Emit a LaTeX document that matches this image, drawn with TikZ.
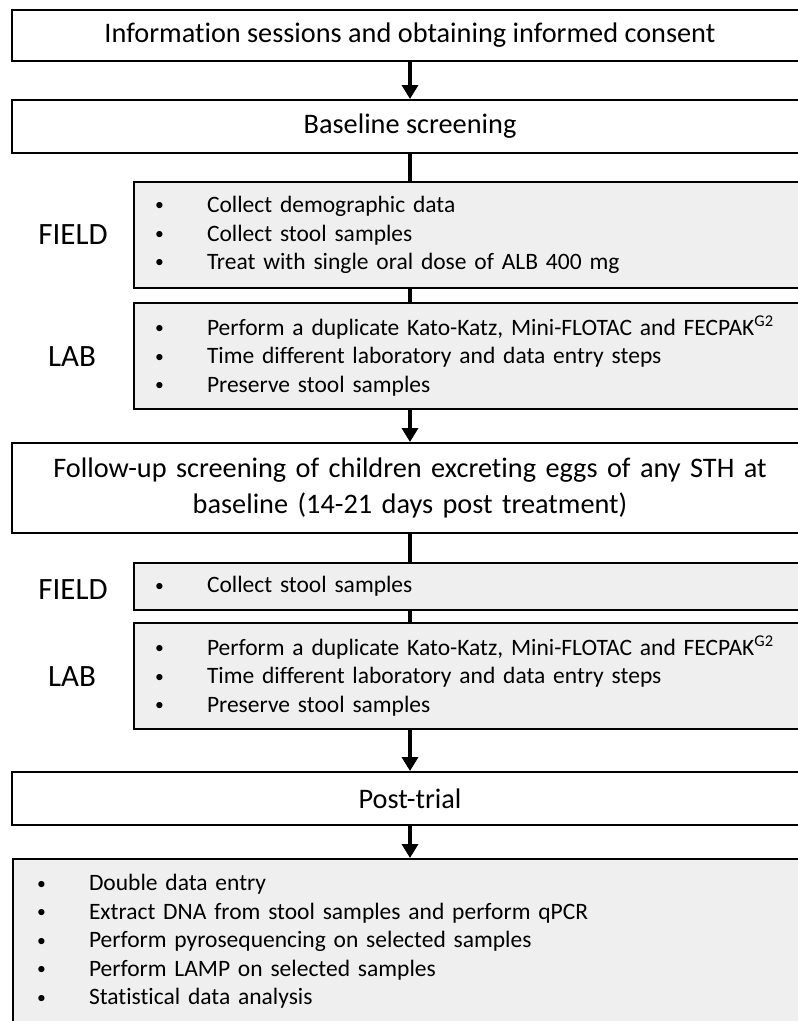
\documentclass[tikz,border=0pt]{standalone}
\usepackage{fontspec}
\setmainfont{Carlito}[Ligatures={NoCommon}]
\usetikzlibrary{arrows.meta,positioning}

\definecolor{boxgray}{RGB}{239,239,239}
\newcommand{\itm}[1]{\makebox[52pt][l]{\raisebox{0.15ex}{\scalebox{0.75}{\textbullet}}}#1}

\tikzset{
  stage/.style={draw, line width=2pt, fill=white, minimum width=796pt, align=center,
    inner sep=0pt, font=\fontsize{28.3}{36}\selectfont},
  tasks/.style={draw, line width=2pt, fill=boxgray, anchor=north west, text width=633pt,
    align=left, inner xsep=21pt, inner ysep=0pt, font=\fontsize{23.5}{28.5}\selectfont},
  side/.style={font=\fontsize{31}{31}\selectfont},
  flow/.style={line width=3.5pt, -{Triangle[width=16pt,length=14pt]}},
  link/.style={line width=3.5pt}
}

\begin{document}
\begin{tikzpicture}[x=1pt,y=-1pt]
\useasboundingbox (0,0) rectangle (798,1021);
\clip (0,0) rectangle (798,1021);

% stages
\node[stage, minimum height=51pt] (consent) at (410,35.5) {Information sessions and obtaining informed consent};
\node[stage, minimum height=53pt] (baseline) at (410,126.5) {Baseline screening};
\node[stage, minimum height=90pt, text width=740pt] (followup) at (410,488)
  {Follow-up screening of children excreting eggs of any STH at\\ baseline (14-21 days post treatment)};
\node[stage, minimum height=53pt] (posttrial) at (410,798.5) {Post-trial};

% baseline tasks
\node[tasks, minimum height=106pt] (field1) at (133,181)
  {\itm{Collect demographic data}\\ \itm{Collect stool samples}\\ \itm{Treat with single oral dose of ALB 400 mg}};
\node[tasks, minimum height=106pt] (lab1) at (133,302)
  {\itm{Perform a duplicate Kato-Katz, Mini-FLOTAC and FECPAK\textsuperscript{G2}}\\ \itm{Time different laboratory and data entry steps}\\ \itm{Preserve stool samples}};
\node[side] (fieldlbl1) at (73,235) {FIELD};
\node[side] (lablbl1) at (72,357) {LAB};

% follow-up tasks
\node[tasks, minimum height=47pt] (field2) at (133,562) {\itm{Collect stool samples}};
\node[tasks, minimum height=106pt] (lab2) at (133,622)
  {\itm{Perform a duplicate Kato-Katz, Mini-FLOTAC and FECPAK\textsuperscript{G2}}\\ \itm{Time different laboratory and data entry steps}\\ \itm{Preserve stool samples}};
\node[side] (fieldlbl2) at (73,590) {FIELD};
\node[side] (lablbl2) at (72,677) {LAB};

% post-trial tasks
\node[tasks, minimum height=165pt, text width=748pt, inner xsep=24pt] (analysis) at (12,858)
  {\itm{Double data entry}\\ \itm{Extract DNA from stool samples and perform qPCR}\\ \itm{Perform pyrosequencing on selected samples}\\ \itm{Perform LAMP on selected samples}\\ \itm{Statistical data analysis}};

% connectors
\draw[flow] (consent) -- (baseline);
\draw[link] (baseline) -- (baseline |- field1.north);
\draw[link] (baseline |- field1.south) -- (baseline |- lab1.north);
\draw[flow] (baseline |- lab1.south) -- (followup);
\draw[link] (followup) -- (followup |- field2.north);
\draw[link] (followup |- field2.south) -- (followup |- lab2.north);
\draw[flow] (followup |- lab2.south) -- (posttrial);
\draw[flow] (posttrial) -- (analysis.north -| posttrial);
\end{tikzpicture}
\end{document}
